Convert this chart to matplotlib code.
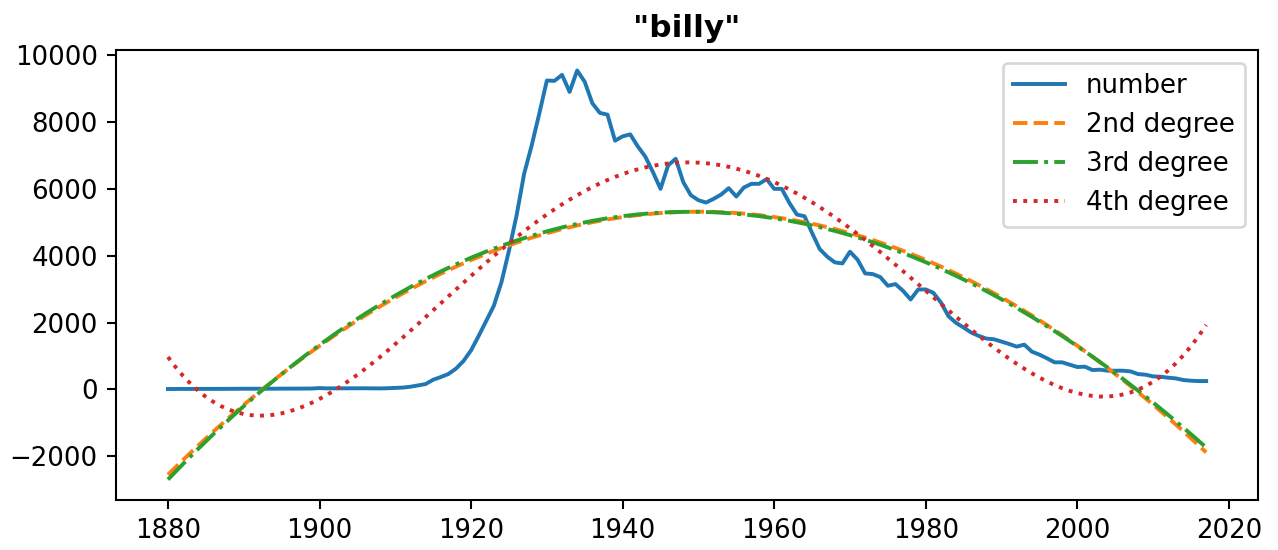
import matplotlib
matplotlib.use('Agg')
import matplotlib.pyplot as plt
import numpy as np

name = 'billy'
years = np.arange(1880, 2018)
number = [
    12, 14, 15, 13, 16, 15, 17, 16, 18, 17,          # 1880s
    20, 19, 21, 20, 22, 23, 22, 24, 25, 27,          # 1890s
    40, 32, 33, 34, 33, 35, 34, 32, 30, 35,          # 1900s
    45, 55, 80, 120, 160, 290, 370, 460, 620, 850,   # 1910s
    1170, 1600, 2050, 2500, 3200, 4150, 5200, 6450, 7300, 8250,  # 1920s
    9240, 9230, 9410, 8900, 9540, 9200, 8560, 8270, 8220, 7440,  # 1930s
    7570, 7630, 7270, 6960, 6500, 6000, 6700, 6900, 6200, 5810,  # 1940s
    5660, 5590, 5700, 5830, 6020, 5770, 6040, 6150, 6150, 6290,  # 1950s
    6000, 6000, 5580, 5230, 5180, 4680, 4200, 3970, 3800, 3770,  # 1960s
    4120, 3880, 3470, 3450, 3360, 3100, 3150, 2950, 2690, 2990,  # 1970s
    2990, 2890, 2600, 2190, 1990, 1850, 1700, 1600, 1520, 1500,  # 1980s
    1430, 1360, 1280, 1340, 1130, 1040, 930, 810, 810, 740,      # 1990s
    670, 680, 580, 590, 560, 560, 560, 540, 460, 440,            # 2000s
    390, 380, 350, 330, 280, 260, 250, 250,                      # 2010s
]
number = np.array(number, dtype=float)

degrees = [2, 3, 4]
fit_labels = ['2nd degree', '3rd degree', '4th degree']
fit_styles = ['--', '-.', ':']

DPI = 187
fig, ax = plt.subplots(figsize=(1278 / DPI, 550 / DPI), dpi=DPI)
fig.subplots_adjust(left=0.0908, right=0.9844, top=0.909, bottom=0.0909)

ax.plot(years, number, label='number')
# polynomial fits of the counts
for deg, lab, ls in zip(degrees, fit_labels, fit_styles):
    p = np.polynomial.Polynomial.fit(years, number, deg)
    ax.plot(years, p(years), ls, label=lab)

ax.set_title('"%s"' % name, fontweight='bold', pad=5)
ax.legend(loc='upper right')
fig.savefig('out.png', dpi=DPI)
